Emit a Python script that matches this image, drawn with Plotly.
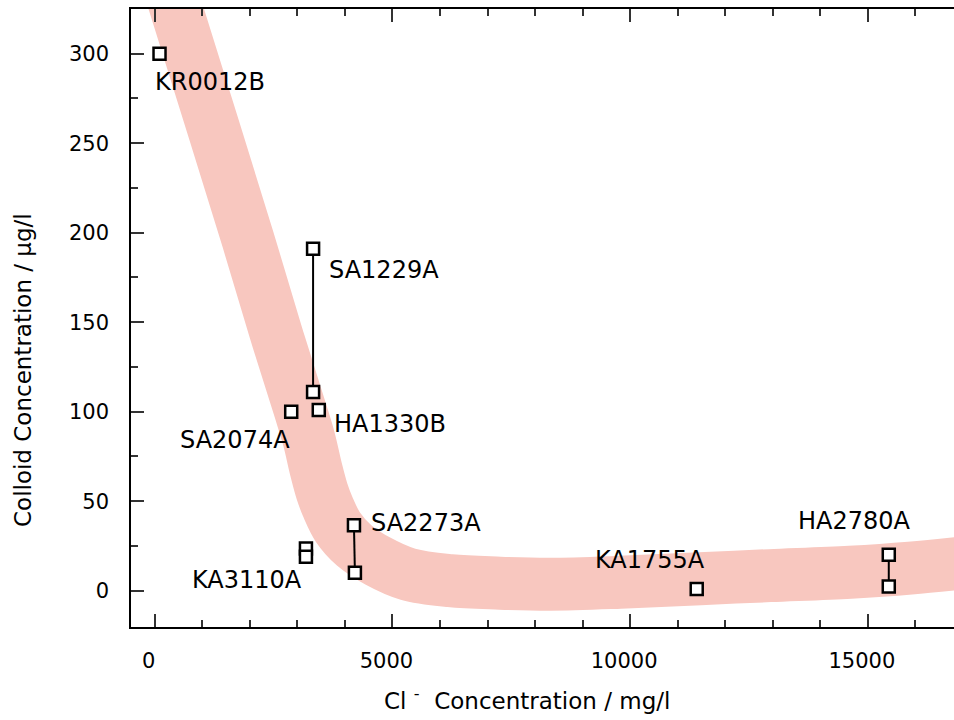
import plotly.graph_objects as go

# Groundwater samples: chloride (mg/l) vs colloid concentration (ug/l).
# Samples with two entries are joined by a vertical bar.
samples = ["KR0012B", "SA1229A", "HA1330B", "SA2074A",
           "SA2273A", "KA3110A", "KA1755A", "HA2780A"]
chloride = [[100], [3330, 3330], [3450], [2870],
            [4190, 4210], [3180, 3180], [11400], [15440, 15440]]
colloid = [[300], [191, 111], [101], [100],
           [36.5, 10], [23.5, 19], [1], [20, 2.3]]

# Trend band (centre line of the shaded region)
band_cl = [131, 457, 1961, 2592, 3055, 3244, 3392, 3518, 3644, 3855, 4191,
           4696, 5327, 6211, 7263, 8315, 9787, 11470, 12943, 14626, 15888,
           17150]
band_colloid = [352.5, 324.6, 196.2, 140.4, 101.3, 84.6, 67.8, 55.5, 46.6,
                35.4, 25.4, 16.5, 9.2, 5.6, 4.2, 3.6, 4.7, 6.7, 8.4, 10.3,
                12.6, 15.9]

# Label placement relative to the first point of each sample (pixels)
label_style = {
    "KR0012B": dict(xshift=-7, yshift=-28, xanchor="left"),
    "SA1229A": dict(xshift=14, yshift=-21, xanchor="left"),
    "HA1330B": dict(xshift=13, yshift=-14, xanchor="left"),
    "SA2074A": dict(xshift=1, yshift=-28, xanchor="right"),
    "SA2273A": dict(xshift=15, yshift=2, xanchor="left"),
    "KA3110A": dict(xshift=-2, yshift=-31, xanchor="right"),
    "KA1755A": dict(xshift=10, yshift=29, xanchor="right"),
    "HA2780A": dict(xshift=24, yshift=34, xanchor="right"),
}

W, H = 954, 720
ML, MR, MT, MB = 131, 0, 9, 93
FONT = "DejaVu Sans"


def paper_x(px):
    return (px - ML) / (W - ML - MR)


def paper_y(py):
    return (H - MB - py) / (H - MT - MB)


fig = go.Figure()

fig.add_trace(go.Scatter(
    x=band_cl, y=band_colloid, mode="lines",
    line=dict(color="#f8c7bf", width=53, shape="spline", smoothing=1),
    hoverinfo="skip", showlegend=False,
))

for name, xs, ys in zip(samples, chloride, colloid):
    fig.add_trace(go.Scatter(
        x=xs, y=ys, mode="lines+markers", name=name,
        line=dict(color="black", width=2),
        marker=dict(symbol="square", size=12, color="white",
                    line=dict(color="black", width=2.5)),
        showlegend=False,
    ))
    st = label_style[name]
    fig.add_annotation(
        x=xs[0], y=ys[0], xref="x", yref="y", text=name, showarrow=False,
        xanchor=st["xanchor"], yanchor="middle",
        xshift=st["xshift"], yshift=st["yshift"],
        font=dict(family=FONT, size=24, color="black"),
    )

# Axis titles
fig.add_annotation(
    x=paper_x(382), y=paper_y(699), xref="paper", yref="paper",
    text="Cl <sup>-</sup>&nbsp; Concentration / mg/l", showarrow=False,
    xanchor="left", yanchor="middle",
    font=dict(family=FONT, size=23, color="black"),
)
fig.add_annotation(
    x=paper_x(23), y=paper_y(370), xref="paper", yref="paper",
    text="Colloid Concentration / µg/l", showarrow=False, textangle=-90,
    xanchor="center", yanchor="middle",
    font=dict(family=FONT, size=23, color="black"),
)

axis_common = dict(
    showline=True, linecolor="black", linewidth=1.5,
    ticks="inside", ticklen=13, tickwidth=1.5, tickcolor="#333",
    showgrid=False, zeroline=False,
    tickfont=dict(family=FONT, size=21, color="black"),
)

fig.update_xaxes(
    range=[-500, 16812], dtick=5000, tick0=0, mirror="ticks",
    tickformat="d", ticklabelstandoff=14, ticklabelshift=-6,
    minor=dict(dtick=1000, ticks="inside", ticklen=7, tickwidth=1.5,
               tickcolor="#333"),
    **axis_common,
)
fig.update_yaxes(
    range=[-20.3, 325], dtick=50, tick0=0, mirror=False,
    ticklabelstandoff=16,
    minor=dict(dtick=25, ticks="inside", ticklen=7, tickwidth=1.5,
               tickcolor="#333"),
    **axis_common,
)

fig.update_layout(
    width=W, height=H,
    margin=dict(l=ML, r=MR, t=MT, b=MB),
    paper_bgcolor="white", plot_bgcolor="white",
    font=dict(family=FONT, color="black"),
)

fig.write_html("out.html")
